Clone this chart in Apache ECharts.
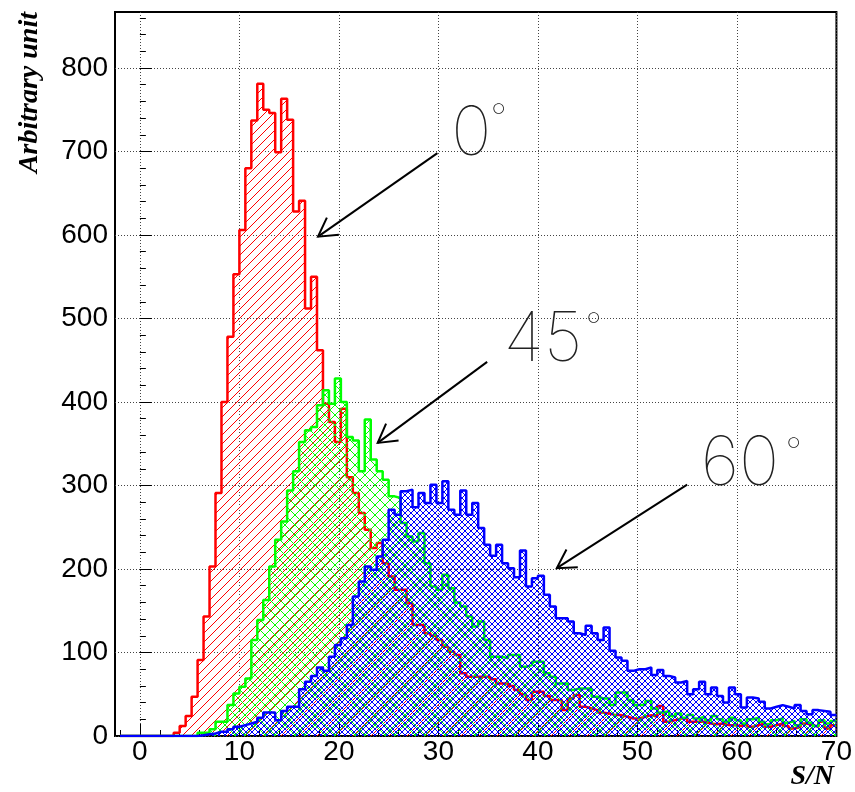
<!DOCTYPE html>
<html><head><meta charset="utf-8">
<script src="https://cdn.jsdelivr.net/npm/echarts@6/dist/echarts.min.js"></script>
<style>html,body{margin:0;padding:0;background:#fff}#c{width:855px;height:792px}</style>
</head><body><div id="c"></div>
<script>
// ---------- data ----------
const binStart = -2;      // low edge of first bin (S/N)
const binWidth = 0.6;     // bin width (S/N)
const red0 = [
  0,0,0,0,0,0,0,0,0,4, 12,24,47,91,143,203,291,400,478,553,
  606,680,737,781,750,746,699,763,738,628, 641,512,550,462,398,376,352,392,310,291,
  267,247,225,231,207,191,175,175,159,133, 133,123,120,115,107,101,97,75,71,71,
  71,71,68,63,63,60,55,50,43,53, 53,48,43,43,31,45,49,35,33,31,
  28,27,25,25,23,21,21,23,25,23, 36,17,19,21,21,17,17,17,15,14,
  15,13,13,12,14,11,13,15,11,13, 15,12,9,11,15,13,11,17,9,13
];
const green45 = [
  0,0,0,0,0,0,0,0,0,0, 0,0,0,4,4,8,17,17,37,51,
  59,69,115,139,163,203,235,257,294,317, 352,366,370,396,414,398,428,400,358,354,
  317,379,331,317,307,287,285,255,239,233, 243,207,179,175,193,177,160,155,143,131,
  137,115,95,95,93,97,97,83,85,89, 89,75,71,63,63,55,57,57,57,47,
  45,45,37,52,52,43,37,37,42,33, 28,30,24,27,22,25,21,23,19,24,
  20,17,22,19,15,20,22,17,14,19, 21,16,18,13,20,16,12,19,15,18
];
const blue60 = [
  0,0,0,0,0,0,0,0,0,0, 0,0,0,1,2,3,5,5,8,11,
  13,15,17,22,28,28,19,30,35,35, 56,65,72,82,78,95,109,117,133,167,
  185,203,199,215,235,271,265,293,295,274, 291,279,301,279,305,271,265,294,265,279,
  249,229,216,229,207,201,190,222,179,189, 192,169,155,141,141,137,123,121,132,123,
  115,130,102,94,90,78,80,80,82,73, 79,72,70,64,66,50,56,65,50,58,
  48,40,58,50,34,46,45,41,33,35, 37,35,33,37,30,26,31,30,29,25
];
const xTickLabels = [0, 10, 20, 30, 40, 50, 60, 70];
const yTickLabels = [0, 100, 200, 300, 400, 500, 600, 700, 800];
const annoText = ['0', '45', '60'];
const annoDegree = '°';
// annotation anchors in data units (S/N, counts)
const annoTextPos = [[33.3, 724], [40.5, 477], [60.3, 329]];
const annoDegreePos = [[36.05, 752], [45.6, 502], [65.7, 352]];
const annoArrows = [[29.9, 698, 17.9, 598], [34.9, 448, 23.9, 351], [55.0, 301, 41.9, 201]];

// ---------- helpers ----------
function histPoints(vals) {
  const pts = vals.map((v, i) => [binStart + i * binWidth, v]);
  pts.push([binStart + vals.length * binWidth, vals[vals.length - 1]]);
  return pts;
}
function hatch(color, s, cross) {
  const c = document.createElement('canvas');
  c.width = s; c.height = s;
  const g = c.getContext('2d');
  g.fillStyle = color;
  for (let k = 0; k < s; k++) {
    g.fillRect(k, s - 1 - k, 1, 1);
    if (cross) g.fillRect(k, k, 1, 1);
  }
  return c;
}
const xMinor = [], yMinor = [];
for (let v = -2; v <= 70; v += 2) if (v % 10 !== 0) xMinor.push(v);
for (let v = 20; v <= 860; v += 20) if (v % 100 !== 0) yMinor.push(v);

const labelFont = {color: '#000', fontFamily: 'Liberation Sans', fontSize: 28};
const dotted = {type: [1, 2], color: '#444', width: 1};

const chart = echarts.init(document.getElementById('c'), null, {renderer: 'canvas'});
function histSeries(name, vals, color, pattern, z) {
  return {
    name, type: 'line', step: 'end', data: histPoints(vals), symbol: 'none', z,
    lineStyle: {color, width: 2.5},
    areaStyle: {color: {image: pattern, repeat: 'repeat'}, opacity: 1, origin: 'start'},
    animation: false
  };
}
chart.setOption({
  animation: false,
  backgroundColor: '#fff',
  grid: {left: 115, right: 18, top: 12, bottom: 56, show: true, borderColor: '#000', borderWidth: 2, backgroundColor: 'transparent'},
  xAxis: [
    {type: 'value', min: -2.5, max: 70, position: 'bottom',
     axisLine: {show: false},
     axisTick: {show: true, inside: true, length: 12, customValues: xTickLabels, lineStyle: {color: '#000', width: 1}},
     axisLabel: {customValues: xTickLabels, margin: 2, ...labelFont},
     splitLine: {show: true, lineStyle: dotted}},
    {type: 'value', min: -2.5, max: 70, position: 'bottom',
     axisLine: {show: false},
     axisTick: {show: true, inside: true, length: 6, customValues: xMinor, lineStyle: {color: '#000', width: 1}},
     axisLabel: {show: false}, splitLine: {show: false}}
  ],
  yAxis: [
    {type: 'value', min: 0, max: 867, position: 'left',
     axisLine: {show: false},
     axisTick: {show: true, inside: true, length: 12, customValues: yTickLabels, lineStyle: {color: '#000', width: 1}},
     axisLabel: {customValues: yTickLabels, margin: 7, ...labelFont},
     splitLine: {show: true, lineStyle: dotted}},
    {type: 'value', min: 0, max: 867, position: 'left',
     axisLine: {show: false},
     axisTick: {show: true, inside: true, length: 6, customValues: yMinor, lineStyle: {color: '#000', width: 1}},
     axisLabel: {show: false}, splitLine: {show: false}}
  ],
  graphic: [
    {type: 'text', x: 30, y: 12, rotation: Math.PI / 2,
     style: {text: 'Arbitrary unit', align: 'right', verticalAlign: 'middle', fill: '#000',
             font: 'italic bold 28px "Liberation Serif"'}},
    {type: 'text', x: 834, y: 777,
     style: {text: 'S/N', align: 'right', verticalAlign: 'middle', fill: '#000',
             font: 'italic bold 28px "Liberation Serif"'}}
  ],
  series: [
    histSeries('0°', red0, '#ff0000', hatch('#ff0000', 9, false), 2),
    histSeries('45°', green45, '#00ff00', hatch('#00ff00', 10, true), 3),
    histSeries('60°', blue60, '#0000ff', hatch('#0000ff', 6, true), 4),
    {type: 'custom', coordinateSystem: 'cartesian2d', z: 10, clip: false,
     data: annoArrows, encode: {x: [0, 2], y: [1, 3]},
     renderItem: function (params, api) {
       const p1 = api.coord([api.value(0), api.value(1)]);
       const p2 = api.coord([api.value(2), api.value(3)]);
       const ang = Math.atan2(p1[1] - p2[1], p1[0] - p2[0]);
       const L = 21, a = Math.PI / 6;
       const h1 = [p2[0] + L * Math.cos(ang + a), p2[1] + L * Math.sin(ang + a)];
       const h2 = [p2[0] + L * Math.cos(ang - a), p2[1] + L * Math.sin(ang - a)];
       return {type: 'group', children: [
         {type: 'line', shape: {x1: p1[0], y1: p1[1], x2: p2[0], y2: p2[1]}, style: {stroke: '#000', lineWidth: 2}},
         {type: 'polyline', shape: {points: [h1, p2, h2]}, style: {stroke: '#000', lineWidth: 2, fill: null}}
       ]};
     }},
    {type: 'custom', coordinateSystem: 'cartesian2d', z: 10, clip: false,
     data: annoTextPos, encode: {x: 0, y: 1},
     renderItem: function (params, api) {
       const p = api.coord([api.value(0), api.value(1)]);
       const d = api.coord(annoDegreePos[params.dataIndex]);
       return {type: 'group', children: [
         {type: 'text', x: p[0], y: p[1] + 3, style: {text: annoText[params.dataIndex], align: 'center', verticalAlign: 'middle',
           fill: '#222', font: '100 68px Inter'}},
         {type: 'text', x: d[0], y: d[1] + 11, style: {text: annoDegree, align: 'center', verticalAlign: 'middle',
           fill: '#222', font: '100 36px Inter'}}
       ]};
     }}
  ]
});
</script></body></html>
